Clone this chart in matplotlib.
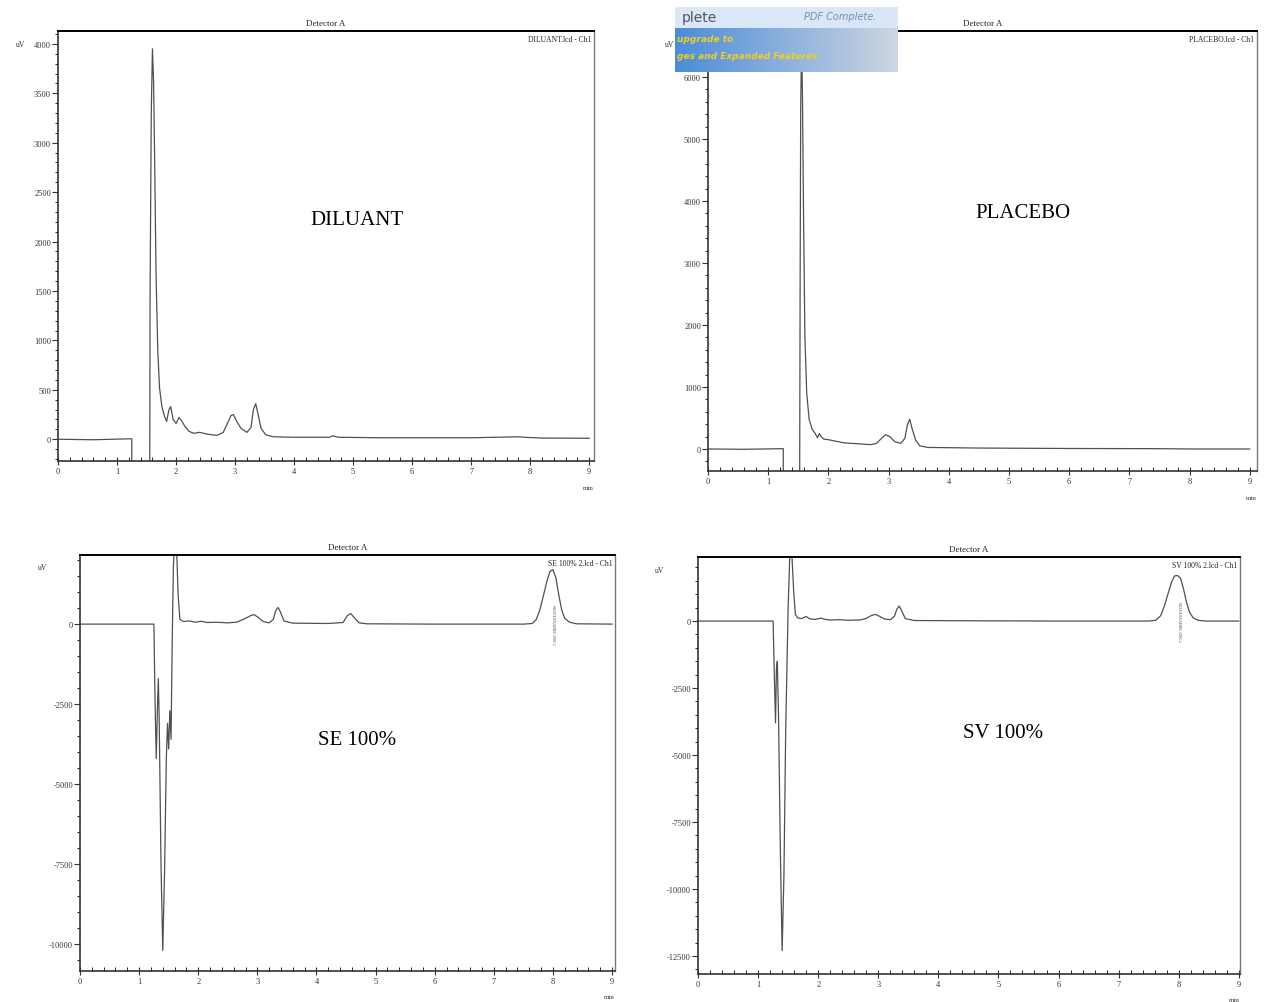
import matplotlib
matplotlib.use("Agg")
import matplotlib.pyplot as plt
import numpy as np
from matplotlib.ticker import MultipleLocator

plt.rcParams['font.family'] = ['Liberation Serif', 'DejaVu Serif']
plt.rcParams['axes.unicode_minus'] = False

W, H = 1264, 1003

# retention time (min) / signal (uV)
diluant_t = [0, 0.6, 1.25, 1.251, 1.549, 1.56, 1.58, 1.60, 1.62, 1.64, 1.66, 1.69, 1.72,
             1.76, 1.80, 1.84, 1.88, 1.91, 1.95, 2.00, 2.05, 2.09, 2.15, 2.22, 2.30,
             2.40, 2.50, 2.60, 2.70, 2.80, 2.87, 2.93, 2.97, 3.03, 3.10, 3.20, 3.27,
             3.31, 3.35, 3.39, 3.44, 3.52, 3.65, 4.0, 4.6, 4.65, 4.75, 5.5, 7.0,
             7.8, 7.9, 8.2, 9.0]
diluant_y = [0, -5, 5, -2000, -2000, 1500, 3300, 3950, 3600, 2700, 1700, 900, 520,
             330, 240, 180, 300, 330, 200, 160, 220, 190, 130, 80, 60,
             70, 55, 45, 40, 70, 160, 240, 250, 180, 110, 70, 120,
             300, 360, 250, 110, 45, 25, 20, 20, 35, 20, 15, 15,
             25, 20, 12, 10]

placebo_t = [0, 0.6, 1.25, 1.251, 1.519, 1.53, 1.54, 1.555, 1.57, 1.59, 1.61, 1.64,
             1.68, 1.73, 1.78, 1.82, 1.85, 1.88, 1.92, 2.00, 2.10, 2.25, 2.40, 2.55,
             2.70, 2.80, 2.88, 2.95, 3.02, 3.10, 3.20, 3.27, 3.31, 3.35, 3.39, 3.45,
             3.52, 3.65, 4.5, 6.0, 7.5, 8.0, 9.0]
placebo_y = [0, -5, 5, -2000, -2000, 2500, 5500, 6600, 5600, 3500, 1800, 900,
             480, 320, 250, 180, 250, 200, 160, 150, 130, 100, 90, 80,
             70, 90, 170, 230, 200, 120, 90, 170, 380, 480, 330, 140,
             50, 25, 15, 8, 5, 0, 0]

se_t = [0, 0.6, 1.25, 1.27, 1.29, 1.31, 1.325, 1.34, 1.37, 1.40, 1.43, 1.46, 1.48,
        1.50, 1.52, 1.54, 1.56, 1.58, 1.60, 1.63, 1.66, 1.69, 1.75, 1.85, 1.95,
        2.05, 2.15, 2.30, 2.50, 2.65, 2.80, 2.88, 2.94, 3.00, 3.10, 3.20, 3.27,
        3.31, 3.35, 3.39, 3.45, 3.60, 4.20, 4.45, 4.52, 4.58, 4.64, 4.72, 4.85,
        6.0, 7.5, 7.65, 7.72, 7.78, 7.84, 7.90, 7.95, 8.00, 8.05, 8.10, 8.15,
        8.20, 8.28, 8.40, 9.0]
se_y = [0, 0, 0, -2500, -4200, -2600, -1700, -3000, -7500, -10200, -7800, -4200, -3100,
        -3900, -2700, -3600, -500, 1800, 2600, 2600, 900, 150, 80, 100, 60,
        90, 50, 60, 40, 60, 180, 260, 300, 230, 80, 40, 150,
        420, 520, 380, 100, 30, 20, 50, 260, 330, 200, 40, 10,
        0, 0, 20, 150, 450, 900, 1350, 1650, 1700, 1450, 900, 430,
        180, 60, 10, 0]

sv_t = [0, 0.6, 1.25, 1.27, 1.29, 1.305, 1.32, 1.34, 1.37, 1.40, 1.43, 1.46, 1.50,
        1.53, 1.56, 1.59, 1.62, 1.66, 1.72, 1.80, 1.86, 1.95, 2.05, 2.12, 2.20,
        2.35, 2.50, 2.70, 2.80, 2.88, 2.95, 3.02, 3.10, 3.20, 3.27, 3.31, 3.35,
        3.39, 3.45, 3.60, 4.5, 6.0, 7.5, 7.62, 7.70, 7.76, 7.82, 7.88, 7.93,
        7.98, 8.03, 8.08, 8.13, 8.18, 8.24, 8.32, 8.45, 9.0]
sv_y = [0, 0, 0, -2000, -3800, -1800, -1500, -3500, -8500, -12300, -9500, -4000, 500,
        2600, 2600, 1200, 250, 120, 90, 170, 80, 60, 110, 60, 40,
        50, 30, 40, 100, 200, 250, 180, 80, 50, 180, 450, 560,
        380, 90, 20, 10, 0, 0, 30, 200, 550, 1000, 1450, 1680,
        1700, 1600, 1200, 700, 330, 120, 30, 0, 0]

panels = [
    dict(px=(58, 594, 32, 462), t=diluant_t, y=diluant_y, ylim=(-220, 4130),
         major=500, minor=100, xmax=9.08, file="DILUANT.lcd - Ch1",
         name="DILUANT", name_px=(357, 221), peak=None),
    dict(px=(708, 1257, 32, 472), t=placebo_t, y=placebo_y, ylim=(-355, 6740),
         major=1000, minor=200, xmax=9.12, file="PLACEBO.lcd - Ch1",
         name="PLACEBO", name_px=(1023, 213), peak=None),
    dict(px=(80, 615, 556, 972), t=se_t, y=se_y, ylim=(-10840, 2160),
         major=2500, minor=500, xmax=9.05, file="SE 100% 2.lcd - Ch1",
         name="SE 100%", name_px=(357, 741), peak=8.06),
    dict(px=(698, 1240, 558, 975), t=sv_t, y=sv_y, ylim=(-13170, 2390),
         major=2500, minor=500, xmax=9.02, file="SV 100% 2.lcd - Ch1",
         name="SV 100%", name_px=(1003, 734), peak=8.06),
]

fig = plt.figure(figsize=(W / 100, H / 100), dpi=100)

for p in panels:
    left, right, top, bottom = p["px"]
    ax = fig.add_axes([left / W, 1 - bottom / H, (right - left) / W, (bottom - top) / H])
    ax.plot(p["t"], p["y"], color="#505050", lw=0.9)
    ax.set_xlim(0, p["xmax"])
    ax.set_ylim(*p["ylim"])
    ax.xaxis.set_major_locator(MultipleLocator(1))
    ax.xaxis.set_minor_locator(MultipleLocator(0.2))
    ax.yaxis.set_major_locator(MultipleLocator(p["major"]))
    ax.yaxis.set_minor_locator(MultipleLocator(p["minor"]))
    ax.tick_params(axis="x", which="major", direction="inout", length=6, width=0.8,
                   labelsize=6, pad=1, colors="#333333")
    ax.tick_params(axis="x", which="minor", direction="in", length=3, width=0.6)
    ax.tick_params(axis="y", which="major", direction="out", length=4, width=0.8,
                   labelsize=6, pad=1, colors="#333333")
    ax.tick_params(axis="y", which="minor", direction="out", length=2, width=0.6)
    ax.set_xticks([v for v in range(0, 10)])
    for side in ("left", "bottom"):
        ax.spines[side].set_linewidth(1.2)
        ax.spines[side].set_color("#333333")
    ax.spines["top"].set_linewidth(1.4)
    ax.spines["right"].set_linewidth(1.0)
    ax.spines["right"].set_color("#777777")

    ax.text(0.5, 1.01, "Detector A", transform=ax.transAxes, ha="center", va="bottom",
            fontsize=6.5, color="#222222")
    ax.text(0.995, 0.99, p["file"], transform=ax.transAxes, ha="right", va="top",
            fontsize=5.5, color="#222222")
    ax.text(-0.07, 0.97, "uV", transform=ax.transAxes, ha="center", va="center",
            fontsize=5.5, color="#333333")
    ax.text(1.0, -0.055, "min", transform=ax.transAxes, ha="right", va="top",
            fontsize=5, color="#333333")
    if p["peak"] is not None:
        ax.text(p["peak"], 0, "7.982/ SIMVASTATIN", rotation=90, ha="center",
                va="center", fontsize=3.2, color="#444444")

    nx, ny = p["name_px"]
    fig.text(nx / W, 1 - ny / H, p["name"], ha="center", va="center",
             fontsize=15, color="black")

# "PDF Complete" banner sitting over the upper right chromatogram
wm = fig.add_axes([675 / W, 1 - 73 / H, 223 / W, 65 / H])
rows, cols = 65, 223
img = np.ones((rows, cols, 3))
gx = np.linspace(0, 1, cols)
top_band = np.array([0.86, 0.91, 0.97])
for r in range(rows):
    if r < 21:
        img[r] = top_band * (1 - 0.08 * gx[:, None]) + 0.08 * gx[:, None] * np.array([0.75, 0.84, 0.95])
    else:
        a = np.array([0.30, 0.55, 0.85])
        b = np.array([0.80, 0.84, 0.88])
        img[r] = a * (1 - gx[:, None]) + b * gx[:, None]
wm.imshow(img, aspect="auto", extent=(0, 1, 0, 1))
wm.set_xlim(0, 1)
wm.set_ylim(0, 1)
wm.axis("off")
wm.text(0.03, 0.84, "plete", fontsize=10, color="#555555", family="DejaVu Sans",
        ha="left", va="center")
wm.text(0.58, 0.86, "PDF Complete.", fontsize=7, color="#7a8fa8", style="italic",
        family="DejaVu Sans", ha="left", va="center")
wm.text(0.01, 0.52, "upgrade to", fontsize=6.5, color="#f0d020", style="italic",
        weight="bold", family="DejaVu Sans", ha="left", va="center")
wm.text(0.01, 0.26, "ges and Expanded Features", fontsize=6.5, color="#f0d020",
        style="italic", weight="bold", family="DejaVu Sans", ha="left", va="center")

fig.savefig("out.png", dpi=100)
